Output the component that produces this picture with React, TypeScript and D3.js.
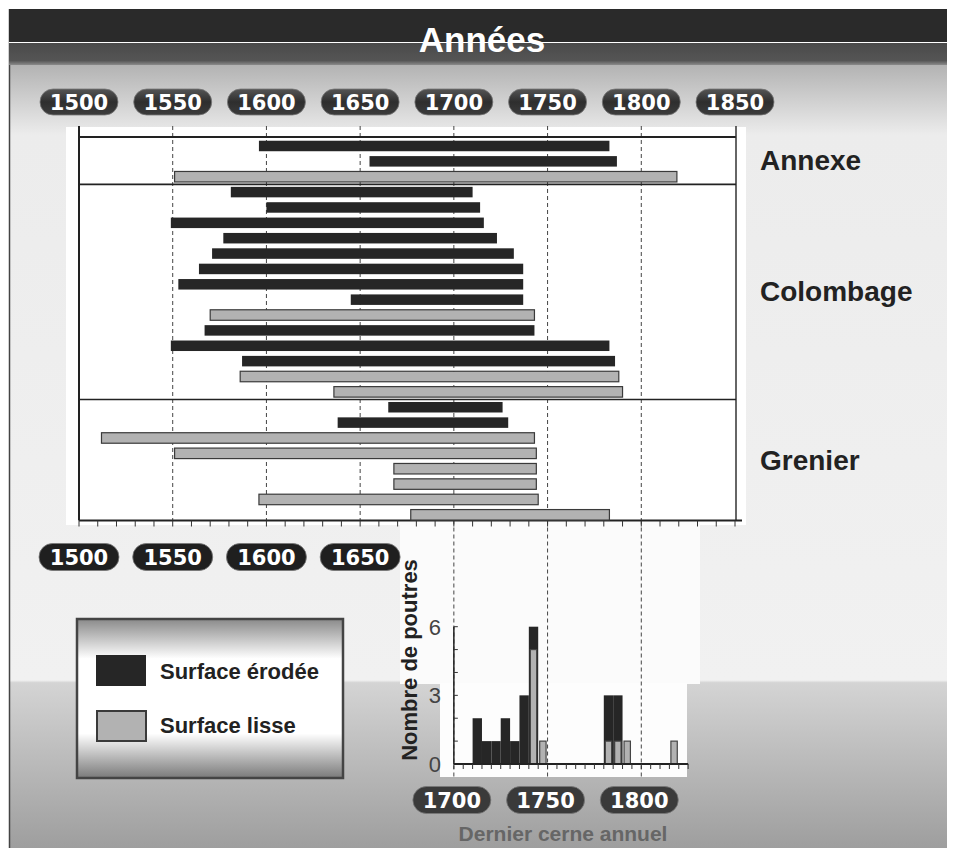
import React from "react";
import * as d3 from "d3";

type Beam = [number, number, "e" | "l"];

// [first ring year, last ring year, surface: e = érodée, l = lisse]
const annexeBeams: Beam[] = [
  [1596, 1783, "e"],
  [1655, 1787, "e"],
  [1551, 1819, "l"],
];
const colombageBeams: Beam[] = [
  [1581, 1710, "e"],
  [1600, 1714, "e"],
  [1549, 1716, "e"],
  [1577, 1723, "e"],
  [1571, 1732, "e"],
  [1564, 1737, "e"],
  [1553, 1737, "e"],
  [1645, 1737, "e"],
  [1570, 1743, "l"],
  [1567, 1743, "e"],
  [1549, 1783, "e"],
  [1587, 1786, "e"],
  [1586, 1788, "l"],
  [1636, 1790, "l"],
];
const grenierBeams: Beam[] = [
  [1665, 1726, "e"],
  [1638, 1729, "e"],
  [1512, 1743, "l"],
  [1551, 1744, "l"],
  [1668, 1744, "l"],
  [1668, 1744, "l"],
  [1596, 1745, "l"],
  [1677, 1783, "l"],
];
const groupNames = ["Annexe", "Colombage", "Grenier"];
const topYearLabels = [1500, 1550, 1600, 1650, 1700, 1750, 1800, 1850];
const gridYears = [1550, 1600, 1650, 1700, 1750, 1800];
const histGridYears = [1700, 1750, 1800];
const lowerYearLabels = [1500, 1550, 1600, 1650];
const histYearLabels = [1700, 1750, 1800];
const histCountLabels = [0, 3, 6];
const legendLabels = ["Surface érodée", "Surface lisse"];

const DARK = "#262626";
const GRAY = "#b2b2b2";
const SANS = "'Liberation Sans', Arial, sans-serif";
const PILL = "'DejaVu Sans', sans-serif";

function Pill({ cx, cy, w, h, label, fill }: { cx: number; cy: number; w: number; h: number; label: string; fill: string }) {
  return (
    <g>
      <rect x={cx - w / 2} y={cy - h / 2} width={w} height={h} rx={h / 2} ry={h / 2} fill={fill} stroke="#777" strokeWidth={0.8} />
      <text x={cx} y={cy + 7.5} textAnchor="middle" fill="#fff" fontFamily={PILL} fontWeight="bold" fontSize={21}>
        {label}
      </text>
    </g>
  );
}

export default function App() {
  const W = 954;
  const H = 848;
  const x = d3.scaleLinear().domain([1500, 1850]).range([79, 735]);
  const groups = [annexeBeams, colombageBeams, grenierBeams];
  const rows = groups.flatMap((g, gi) => g.map((b) => ({ start: b[0], end: b[1], surf: b[2], group: gi })));
  const y = d3.scaleBand<number>().domain(d3.range(rows.length)).range([138.3, 522.5]);
  const step = y.step();
  const barH = 10.5;
  let acc = 0;
  const bounds = groups.map((g) => {
    const s = acc;
    acc += g.length;
    return [s, acc];
  });
  const frameTop = 137;
  const axisY = 520.5;

  // histogram
  const hy = d3.scaleLinear().domain([0, 6]).range([764, 626.7]);
  const binner = d3
    .bin<(typeof rows)[number], number>()
    .value((d) => d.end)
    .domain([1700, 1825])
    .thresholds(d3.range(1705, 1825, 5));
  const bins = binner(rows).map((b) => ({
    x0: b.x0 as number,
    x1: b.x1 as number,
    e: b.filter((d) => d.surf === "e").length,
    l: b.filter((d) => d.surf === "l").length,
  }));

  return (
    <svg width={W} height={H} style={{ position: "absolute", left: 0, top: 0 }}>
      <defs>
        <linearGradient id="bgV" x1="0" y1="9" x2="0" y2="848" gradientUnits="userSpaceOnUse">
          <stop offset="0" stopColor="#b0b0b0" />
          <stop offset="0.067" stopColor="#b3b3b3" />
          <stop offset="0.15" stopColor="#ececec" />
          <stop offset="0.8" stopColor="#f1f1f1" />
          <stop offset="0.803" stopColor="#d4d4d4" />
          <stop offset="1" stopColor="#9e9e9e" />
        </linearGradient>
        <linearGradient id="band" x1="0" y1="0" x2="0" y2="1">
          <stop offset="0" stopColor="#4a4a4a" />
          <stop offset="0.8" stopColor="#555" />
          <stop offset="1" stopColor="#8a8a8a" />
        </linearGradient>
        <linearGradient id="legendBg" x1="0" y1="0" x2="0" y2="1">
          <stop offset="0" stopColor="#8a8a8a" />
          <stop offset="0.25" stopColor="#ffffff" />
          <stop offset="0.72" stopColor="#ffffff" />
          <stop offset="1" stopColor="#7a7a7a" />
        </linearGradient>
        <linearGradient id="pillTop" x1="0" y1="0" x2="0" y2="1">
          <stop offset="0" stopColor="#555" />
          <stop offset="0.5" stopColor="#2e2e2e" />
          <stop offset="1" stopColor="#3c3c3c" />
        </linearGradient>
      </defs>

      {/* background */}
      <rect x={9} y={9} width={938} height={839} fill="url(#bgV)" />
      <rect x={66} y={127} width={680} height={398} fill="#fff" />
      <rect x={400} y={522} width={300} height={162} fill="#fbfbfb" />
      <rect x={440} y={683} width={247} height={94} fill="#fdfdfd" />
      <line x1={9.5} y1={9} x2={9.5} y2={848} stroke="#444" strokeWidth={1.5} />

      {/* header */}
      <rect x={9} y={9} width={938} height={33} fill="#2a2a2a" />
      <rect x={9} y={43} width={938} height={22} fill="url(#band)" />
      <line x1={9} y1={42.5} x2={947} y2={42.5} stroke="#fff" strokeWidth={1} />
      <text x={482} y={52} textAnchor="middle" fill="#fff" fontFamily={SANS} fontWeight="bold" fontSize={35}>
        Années
      </text>

      {/* top year pills */}
      {topYearLabels.map((yr) => (
        <Pill key={"t" + yr} cx={x(yr)} cy={102} w={78} h={26} label={String(yr)} fill="url(#pillTop)" />
      ))}

      {/* grid lines */}
      {gridYears.map((yr) => (
        <line key={"g" + yr} x1={x(yr)} x2={x(yr)} y1={126} y2={axisY} stroke="#444" strokeWidth={1} strokeDasharray="4,3" />
      ))}
      {histGridYears.map((yr) => (
        <line key={"hg" + yr} x1={x(yr)} x2={x(yr)} y1={axisY} y2={778} stroke="#444" strokeWidth={1} strokeDasharray="4,3" />
      ))}

      {/* frame */}
      <line x1={79} x2={736} y1={frameTop} y2={frameTop} stroke="#222" strokeWidth={1.8} />
      <line x1={79} x2={79} y1={126} y2={axisY} stroke="#222" strokeWidth={2} />
      <line x1={736} x2={736} y1={126} y2={axisY} stroke="#333" strokeWidth={1.5} />
      {bounds.slice(1).map((b, i) => (
        <line key={"sep" + i} x1={79} x2={736} y1={y(b[0]) as number} y2={y(b[0]) as number} stroke="#222" strokeWidth={1.6} />
      ))}
      <line x1={79} x2={742} y1={axisY} y2={axisY} stroke="#222" strokeWidth={2} />
      {d3.range(1500, 1851, 10).map((yr) => (
        <line key={"tk" + yr} x1={x(yr)} x2={x(yr)} y1={axisY} y2={axisY + 6} stroke="#333" strokeWidth={1} />
      ))}

      {/* beams */}
      {rows.map((r, i) => {
        const yy = (y(i) as number) + (step - barH) / 2;
        return r.surf === "e" ? (
          <rect key={"b" + i} x={x(r.start)} y={yy} width={x(r.end) - x(r.start)} height={barH} fill={DARK} />
        ) : (
          <rect key={"b" + i} x={x(r.start)} y={yy} width={x(r.end) - x(r.start)} height={barH} fill={GRAY} stroke="#3a3a3a" strokeWidth={1.2} />
        );
      })}

      {/* group labels */}
      {groupNames.map((name, gi) => {
        const top = y(bounds[gi][0]) as number;
        const bot = (y(bounds[gi][1] - 1) as number) + step;
        return (
          <text key={name} x={760} y={(top + bot) / 2 + 9} fill="#222" fontFamily={SANS} fontWeight="bold" fontSize={28}>
            {name}
          </text>
        );
      })}

      {/* lower year pills */}
      {lowerYearLabels.map((yr) => (
        <Pill key={"l" + yr} cx={x(yr)} cy={557} w={80} h={27} label={String(yr)} fill="#1f1f1f" />
      ))}

      {/* legend */}
      <rect x={77} y={619} width={266} height={159} fill="url(#legendBg)" stroke="#444" strokeWidth={2.5} />
      <rect x={96} y={655} width={50} height={31} fill={DARK} />
      <rect x={97} y={711} width={49} height={30} fill={GRAY} stroke="#3a3a3a" strokeWidth={2} />
      {legendLabels.map((lab, i) => (
        <text key={lab} x={160} y={679 + i * 54} fill="#222" fontFamily={SANS} fontWeight="bold" fontSize={22}>
          {lab}
        </text>
      ))}

      {/* histogram */}
      {bins.map((b, i) => {
        const x0 = x(b.x0);
        const x1 = x(b.x1);
        const tot = b.e + b.l;
        return (
          <g key={"h" + i}>
            {b.e > 0 && <rect x={x0} y={hy(tot)} width={x1 - x0} height={hy(0) - hy(tot)} fill={DARK} />}
            {b.l > 0 && (
              <rect x={x0 + 1.5} y={hy(b.l)} width={x1 - x0 - 3} height={hy(0) - hy(b.l)} fill={GRAY} stroke="#444" strokeWidth={1.2} />
            )}
          </g>
        );
      })}
      <line x1={x(1700)} x2={x(1700)} y1={hy(6)} y2={hy(0)} stroke="#222" strokeWidth={1.5} />
      {d3.range(0, 7).map((v) => (
        <line key={"hy" + v} x1={x(1700)} x2={x(1700) + 4} y1={hy(v)} y2={hy(v)} stroke="#333" strokeWidth={1} />
      ))}
      <line x1={x(1700)} x2={x(1825)} y1={hy(0)} y2={hy(0)} stroke="#222" strokeWidth={2} />
      {d3.range(1700, 1826, 5).map((yr) => (
        <line key={"hx" + yr} x1={x(yr)} x2={x(yr)} y1={hy(0)} y2={hy(0) + 5} stroke="#333" strokeWidth={1} />
      ))}
      {histCountLabels.map((v) => (
        <text key={"hl" + v} x={441} y={hy(v) + 8} textAnchor="end" fill="#444" fontFamily={SANS} fontSize={22}>
          {v}
        </text>
      ))}
      <text
        transform={`translate(417,660) rotate(-90)`}
        textAnchor="middle"
        fill="#222"
        fontFamily={SANS}
        fontWeight="bold"
        fontSize={22}
      >
        Nombre de poutres
      </text>
      {histYearLabels.map((yr) => (
        <Pill key={"hp" + yr} cx={x(yr) - 2} cy={800} w={78} h={27} label={String(yr)} fill="#3a3a3a" />
      ))}
      <text x={563} y={841} textAnchor="middle" fill="#666" fontFamily={SANS} fontWeight="bold" fontSize={21}>
        Dernier cerne annuel
      </text>
    </svg>
  );
}
